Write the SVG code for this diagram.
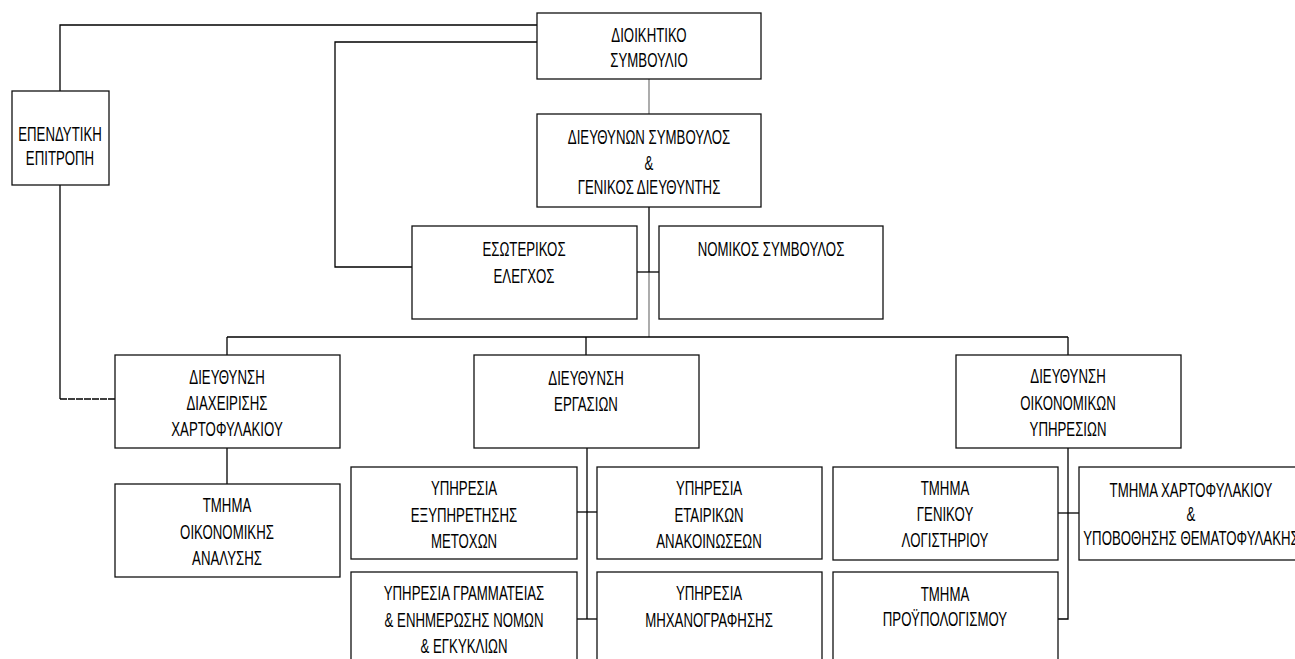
<svg xmlns="http://www.w3.org/2000/svg" width="1295" height="659" viewBox="0 0 1295 659">
<style>
.box{fill:#fff;stroke:#111;stroke-width:1.3}
.t{font-family:"Liberation Sans",Arial,sans-serif;font-size:21px;fill:#000;text-anchor:middle}
.c{fill:none;stroke:#000;stroke-width:1.3}
.g{fill:none;stroke:#808080;stroke-width:1.3}
.d{fill:none;stroke:#000;stroke-width:1.3;stroke-dasharray:7 1}
</style>
<rect width="1295" height="659" fill="#fff"/>
<g id="connectors">
<polyline class="c" points="537,25 60,25 60,91"/>
<polyline class="c" points="537,42 335,42 335,267 412,267"/>
<line class="g" x1="649" y1="79" x2="649" y2="114"/>
<line class="c" x1="649" y1="207" x2="649" y2="272"/>
<line class="g" x1="649" y1="272" x2="649" y2="337"/>
<line class="c" x1="637" y1="272" x2="659" y2="272"/>
<line class="c" x1="227" y1="337" x2="1068" y2="337"/>
<line class="c" x1="227" y1="337" x2="227" y2="355"/>
<line class="c" x1="586" y1="337" x2="586" y2="355"/>
<line class="c" x1="1068" y1="337" x2="1068" y2="355"/>
<line class="c" x1="60" y1="185" x2="60" y2="399"/>
<line class="d" x1="60" y1="399" x2="115" y2="399"/>
<line class="c" x1="227" y1="448" x2="227" y2="484"/>
<line class="c" x1="587" y1="448" x2="587" y2="619"/>
<line class="c" x1="577" y1="512" x2="597" y2="512"/>
<line class="c" x1="577" y1="619" x2="597" y2="619"/>
<polyline class="c" points="1068,448 1068,619 1058,619"/>
<line class="c" x1="1058" y1="513" x2="1079" y2="513"/>
</g>
<g id="board">
<rect class="box" x="537" y="13" width="224" height="66"/>
<text class="t" transform="translate(649,41.5) scale(0.63,1)">ΔΙΟΙΚΗΤΙΚΟ</text>
<text class="t" transform="translate(649,66.5) scale(0.63,1)">ΣΥΜΒΟΥΛΙΟ</text>
</g>
<g id="ceo">
<rect class="box" x="537" y="114" width="224" height="93"/>
<text class="t" transform="translate(649,143.5) scale(0.63,1)">ΔΙΕΥΘΥΝΩΝ ΣΥΜΒΟΥΛΟΣ</text>
<text class="t" transform="translate(649,169.5) scale(0.63,1)">&amp;</text>
<text class="t" transform="translate(649,193.5) scale(0.63,1)">ΓΕΝΙΚΟΣ ΔΙΕΥΘΥΝΤΗΣ</text>
</g>
<g id="investment-committee">
<rect class="box" x="12" y="91" width="97" height="94"/>
<text class="t" transform="translate(60,140.5) scale(0.63,1)">ΕΠΕΝΔΥΤΙΚΗ</text>
<text class="t" transform="translate(60,164.5) scale(0.63,1)">ΕΠΙΤΡΟΠΗ</text>
</g>
<g id="internal-audit">
<rect class="box" x="412" y="226" width="225" height="93"/>
<text class="t" transform="translate(524,255.5) scale(0.63,1)">ΕΣΩΤΕΡΙΚΟΣ</text>
<text class="t" transform="translate(524,282.5) scale(0.63,1)">ΕΛΕΓΧΟΣ</text>
</g>
<g id="legal-advisor">
<rect class="box" x="659" y="226" width="224" height="93"/>
<text class="t" transform="translate(771,255.5) scale(0.63,1)">ΝΟΜΙΚΟΣ ΣΥΜΒΟΥΛΟΣ</text>
</g>
<g id="portfolio-management">
<rect class="box" x="115" y="355" width="225" height="93"/>
<text class="t" transform="translate(227,383.5) scale(0.63,1)">ΔΙΕΥΘΥΝΣΗ</text>
<text class="t" transform="translate(227,409.5) scale(0.63,1)">ΔΙΑΧΕΙΡΙΣΗΣ</text>
<text class="t" transform="translate(227,435.5) scale(0.63,1)">ΧΑΡΤΟΦΥΛΑΚΙΟΥ</text>
</g>
<g id="operations">
<rect class="box" x="474" y="355" width="225" height="93"/>
<text class="t" transform="translate(586,384.5) scale(0.63,1)">ΔΙΕΥΘΥΝΣΗ</text>
<text class="t" transform="translate(586,410.5) scale(0.63,1)">ΕΡΓΑΣΙΩΝ</text>
</g>
<g id="financial-services">
<rect class="box" x="956" y="355" width="225" height="93"/>
<text class="t" transform="translate(1068,382.5) scale(0.63,1)">ΔΙΕΥΘΥΝΣΗ</text>
<text class="t" transform="translate(1068,409.5) scale(0.63,1)">ΟΙΚΟΝΟΜΙΚΩΝ</text>
<text class="t" transform="translate(1068,435.5) scale(0.63,1)">ΥΠΗΡΕΣΙΩΝ</text>
</g>
<g id="financial-analysis">
<rect class="box" x="115" y="484" width="225" height="93"/>
<text class="t" transform="translate(227,511.5) scale(0.63,1)">ΤΜΗΜΑ</text>
<text class="t" transform="translate(227,538.5) scale(0.63,1)">ΟΙΚΟΝΟΜΙΚΗΣ</text>
<text class="t" transform="translate(227,564.5) scale(0.63,1)">ΑΝΑΛΥΣΗΣ</text>
</g>
<g id="shareholder-services">
<rect class="box" x="351" y="467" width="226" height="92"/>
<text class="t" transform="translate(464,494.5) scale(0.63,1)">ΥΠΗΡΕΣΙΑ</text>
<text class="t" transform="translate(464,521.5) scale(0.63,1)">ΕΞΥΠΗΡΕΤΗΣΗΣ</text>
<text class="t" transform="translate(464,547.5) scale(0.63,1)">ΜΕΤΟΧΩΝ</text>
</g>
<g id="corporate-announcements">
<rect class="box" x="597" y="467" width="225" height="92"/>
<text class="t" transform="translate(709,494.5) scale(0.63,1)">ΥΠΗΡΕΣΙΑ</text>
<text class="t" transform="translate(709,521.5) scale(0.63,1)">ΕΤΑΙΡΙΚΩΝ</text>
<text class="t" transform="translate(709,547.5) scale(0.63,1)">ΑΝΑΚΟΙΝΩΣΕΩΝ</text>
</g>
<g id="secretariat">
<rect class="box" x="351" y="572" width="226" height="95"/>
<text class="t" transform="translate(464,599.5) scale(0.63,1)">ΥΠΗΡΕΣΙΑ ΓΡΑΜΜΑΤΕΙΑΣ</text>
<text class="t" transform="translate(464,626.5) scale(0.63,1)">&amp; ΕΝΗΜΕΡΩΣΗΣ ΝΟΜΩΝ</text>
<text class="t" transform="translate(464,652.5) scale(0.63,1)">&amp; ΕΓΚΥΚΛΙΩΝ</text>
</g>
<g id="it-services">
<rect class="box" x="597" y="572" width="225" height="95"/>
<text class="t" transform="translate(709,599.5) scale(0.63,1)">ΥΠΗΡΕΣΙΑ</text>
<text class="t" transform="translate(709,626.5) scale(0.63,1)">ΜΗΧΑΝΟΓΡΑΦΗΣΗΣ</text>
</g>
<g id="general-accounting">
<rect class="box" x="833" y="467" width="225" height="93"/>
<text class="t" transform="translate(945,494.5) scale(0.63,1)">ΤΜΗΜΑ</text>
<text class="t" transform="translate(945,520.5) scale(0.63,1)">ΓΕΝΙΚΟΥ</text>
<text class="t" transform="translate(945,546.5) scale(0.63,1)">ΛΟΓΙΣΤΗΡΙΟΥ</text>
</g>
<g id="portfolio-custody">
<rect class="box" x="1079" y="467" width="225" height="93"/>
<text class="t" transform="translate(1191,496.5) scale(0.63,1)">ΤΜΗΜΑ ΧΑΡΤΟΦΥΛΑΚΙΟΥ</text>
<text class="t" transform="translate(1191,520.5) scale(0.63,1)">&amp;</text>
<text class="t" transform="translate(1191,544.5) scale(0.63,1)">ΥΠΟΒΟΘΗΣΗΣ ΘΕΜΑΤΟΦΥΛΑΚΗΣ</text>
</g>
<g id="budget">
<rect class="box" x="833" y="572" width="225" height="95"/>
<text class="t" transform="translate(945,600.5) scale(0.63,1)">ΤΜΗΜΑ</text>
<text class="t" transform="translate(945,625.5) scale(0.63,1)">ΠΡΟΫΠΟΛΟΓΙΣΜΟΥ</text>
</g>
</svg>
